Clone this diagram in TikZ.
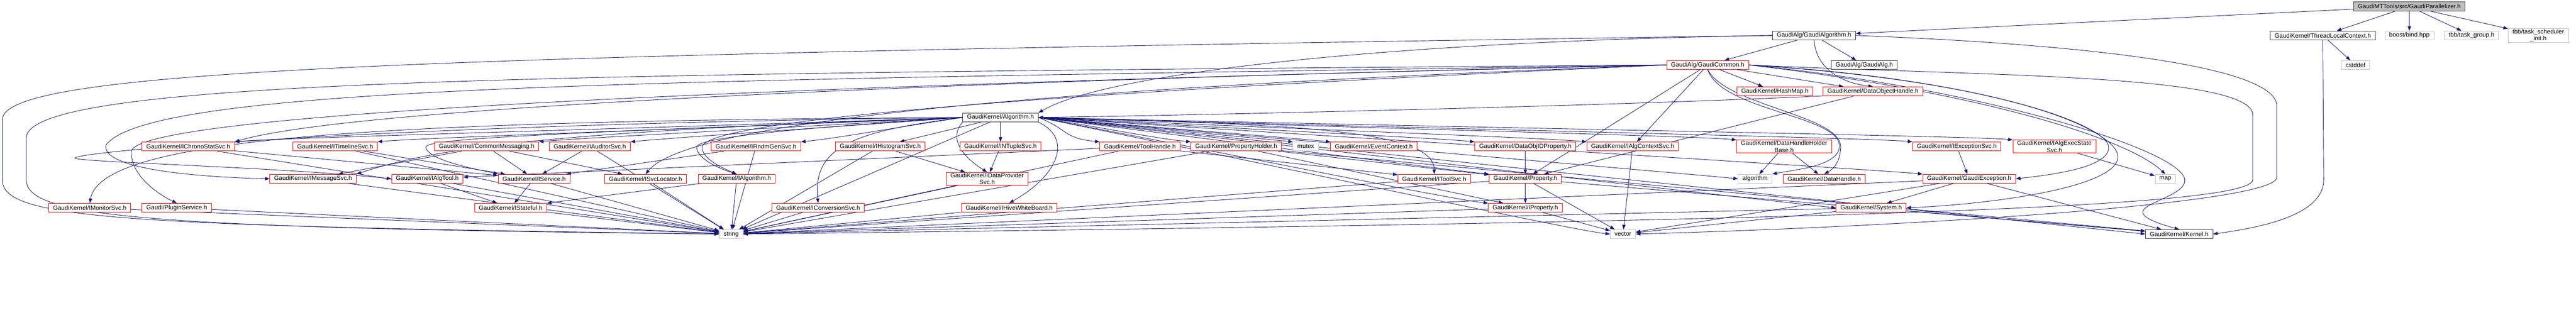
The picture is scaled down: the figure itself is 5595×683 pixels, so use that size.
\documentclass[tikz,border=0pt]{standalone}
\usepackage{fontspec}
\setmainfont{Liberation Sans}
\usepackage{tikz}
\usetikzlibrary{calc,positioning}
\usetikzlibrary{arrows.meta}
\tikzset{>={Triangle[width=5.5pt,length=7.5pt]}}
\definecolor{edgeblue}{HTML}{191970}
\definecolor{extgray}{HTML}{BFBFBF}
\pgfdeclarelayer{background}
\pgfsetlayers{background,main}

\begin{document}
\begin{tikzpicture}[x=0.75pt,y=-0.75pt]
        \tikzstyle{hnode} = [line width=0.75pt, rectangle, fill=white, inner xsep=7pt, inner ysep=1pt, minimum height=14.5pt, align=center, font=\fontsize{10}{11.5}\selectfont]
        \tikzstyle{rnode} = [hnode, draw=red]
        \tikzstyle{bnode} = [hnode, draw=black!80]
        \tikzstyle{gnode} = [hnode, draw=extgray]
        \tikzstyle{edge} = [->, edgeblue, line width=0.75pt]

        \useasboundingbox (0,0) rectangle (5595,683);

        % top rows
        \node[bnode, fill=extgray] (par) at (5233,14) {GaudiMTTools/src/GaudiParallelizer.h};
        \node[bnode] (galgo) at (3940,77) {GaudiAlg/GaudiAlgorithm.h};
        \node[bnode] (tlc) at (5045,77) {GaudiKernel/ThreadLocalContext.h};
        \node[gnode] (bind) at (5233,77) {boost/bind.hpp};
        \node[gnode] (tgrp) at (5368,77) {tbb/task\_group.h};
        \node[gnode] (tsi) at (5513,77) {tbb/task\_scheduler\\\_init.h};
        \node[rnode] (gcom) at (3709,141) {GaudiAlg/GaudiCommon.h};
        \node[bnode] (galg) at (4049,141) {GaudiAlg/GaudiAlg.h};
        \node[gnode] (cstd) at (5116,141) {cstddef};
        \node[rnode] (hmap) at (3855,198) {GaudiKernel/HashMap.h};
        \node[rnode] (doh) at (4068,198) {GaudiKernel/DataObjectHandle.h};
        \node[bnode] (alg) at (2173,255) {GaudiKernel/Algorithm.h};

        % row of direct includes
        \node[rnode] (chrono) at (409,318) {GaudiKernel/IChronoStatSvc.h};
        \node[rnode] (tline) at (728,318) {GaudiKernel/ITimelineSvc.h};
        \node[rnode] (cmsg) at (1057,318) {GaudiKernel/CommonMessaging.h};
        \node[rnode] (aud) at (1281,318) {GaudiKernel/IAuditorSvc.h};
        \node[rnode] (rndm) at (1642,318) {GaudiKernel/IRndmGenSvc.h};
        \node[rnode] (hist) at (1912,318) {GaudiKernel/IHistogramSvc.h};
        \node[rnode] (ntup) at (2173,318) {GaudiKernel/INTupleSvc.h};
        \node[rnode] (thdl) at (2476,318) {GaudiKernel/ToolHandle.h};
        \node[rnode] (phld) at (2685,318) {GaudiKernel/PropertyHolder.h};
        \node[gnode] (mutex) at (2836,318) {mutex};
        \node[rnode] (evctx) at (2984,318) {GaudiKernel/EventContext.h};
        \node[rnode] (doidp) at (3313,318) {GaudiKernel/DataObjIDProperty.h};
        \node[rnode] (actx) at (3546,318) {GaudiKernel/IAlgContextSvc.h};
        \node[rnode] (dhhb) at (3875,318) {GaudiKernel/DataHandleHolder\\Base.h};
        \node[rnode] (exsvc) at (4250,318) {GaudiKernel/IExceptionSvc.h};
        \node[rnode] (aexs) at (4462,318) {GaudiKernel/IAlgExecState\\Svc.h};

        \node[rnode] (imsg) at (680,388) {GaudiKernel/IMessageSvc.h};
        \node[rnode] (atool) at (928,388) {GaudiKernel/IAlgTool.h};
        \node[rnode] (isvc) at (1160,388) {GaudiKernel/IService.h};
        \node[rnode] (sloc) at (1402,388) {GaudiKernel/ISvcLocator.h};
        \node[rnode] (ialg) at (1600,388) {GaudiKernel/IAlgorithm.h};
        \node[rnode] (dpsvc) at (2144,388) {GaudiKernel/IDataProvider\\Svc.h};
        \node[rnode] (tsvc) at (3115,388) {GaudiKernel/IToolSvc.h};
        \node[rnode] (prop) at (3313,388) {GaudiKernel/Property.h};
        \node[gnode] (algm) at (3812,388) {algorithm};
        \node[rnode] (dhdl) at (3962,388) {GaudiKernel/DataHandle.h};
        \node[rnode] (gexc) at (4277,388) {GaudiKernel/GaudiException.h};
        \node[gnode] (map) at (4703,388) {map};

        \node[rnode] (mon) at (195,451) {GaudiKernel/IMonitorSvc.h};
        \node[rnode] (plug) at (384,451) {Gaudi/PluginService.h};
        \node[rnode] (stful) at (1109,451) {GaudiKernel/IStateful.h};
        \node[rnode] (conv) at (1777,451) {GaudiKernel/IConversionSvc.h};
        \node[rnode] (hive) at (2192,451) {GaudiKernel/IHiveWhiteBoard.h};
        \node[rnode] (iprop) at (3313,451) {GaudiKernel/IProperty.h};
        \node[rnode] (sys) at (4064,451) {GaudiKernel/System.h};

        \node[gnode] (str) at (1588,508) {string};
        \node[gnode] (vec) at (3525,508) {vector};
        \node[bnode] (kern) at (4733,508) {GaudiKernel/Kernel.h};

        \begin{pgfonlayer}{background}
          % short includes
          \foreach \a/\b in {par/galgo, par/tlc, par/bind, par/tgrp, par/tsi, tlc/cstd,
              galgo/gcom, galgo/galg, gcom/hmap, gcom/doh, gcom/actx, gcom/prop, alg/ntup, alg/hist,
              cmsg/imsg, cmsg/isvc, cmsg/sloc, chrono/isvc, tline/isvc, aud/isvc, rndm/isvc,
              atool/stful, isvc/stful, ialg/stful, hist/dpsvc, ntup/dpsvc, thdl/tsvc, thdl/atool,
              phld/prop, doidp/prop, prop/iprop, phld/iprop, doh/prop, dhhb/algm, dhhb/dhdl,
              exsvc/gexc, aexs/map, gexc/sys, alg/str}
            \draw[edge] (\a) -- (\b);

          % into string, vector and Kernel.h
          \foreach \a in {chrono, tline, imsg, atool, isvc, sloc, ialg, stful, conv, rndm, hist, dpsvc,
              hive, thdl, phld, tsvc, prop, iprop, gexc, sys, mon, plug, aud}
            \draw[edge] (\a) -- (str);
          \foreach \a in {actx, iprop, prop, sys, gexc}
            \draw[edge] (\a) -- (vec);
          \foreach \a in {gexc, sys, prop, phld}
            \draw[edge] (\a) -- (kern);

          % Algorithm.h fan out
          \foreach \b in {chrono, tline, cmsg, aud, rndm}
            \draw[edge] (alg.west) .. controls ($(alg.west)!0.5!(\b.north east)$) and ($(\b.north east)+(80,-8)$) .. (\b.north east);
          \foreach \b/\p in {thdl/north west, phld/north west, mutex/north west, evctx/north west,
              doidp/north west, actx/north west, dhhb/north west, exsvc/north west, aexs/north west,
              prop/north west, iprop/north west, algm/west, sys/west, gexc/north west, vec/west, kern/west}
            \draw[edge] (alg.east) .. controls ($(alg.east)!0.5!(\b.\p)$) and ($(\b.\p)+(-80,-8)$) .. (\b.\p);

          \draw[edge] (alg.west) .. controls (800,262) and (220,300) .. (mon.north);
          \draw[edge] (alg.west) .. controls (800,270) and (163,330) .. (163,343) .. controls (163,352) and (600,362) .. (atool.west);
          \draw[edge] (alg.west) .. controls (1200,285) and (950,320) .. (imsg.north east);
          \draw[edge] (alg.west) .. controls (1200,290) and (920,300) .. (925,320) .. controls (930,350) and (1050,370) .. (isvc.north west);
          \draw[edge] (alg.west) .. controls (1700,280) and (1510,300) .. (1513,320) .. controls (1515,345) and (1560,365) .. (ialg.north);
          \draw[edge] (alg.west) .. controls (1850,285) and (1765,320) .. (conv.north);
          \draw[edge] (alg.south west) .. controls (2060,300) and (2090,340) .. (dpsvc.north);
          \draw[edge] (alg.south east) .. controls (2330,300) and (2300,380) .. (hive.north);
          \draw[edge] (alg.east) .. controls (2800,270) and (3115,280) .. (tsvc.north);

          % GaudiAlgorithm.h and GaudiCommon.h long routes
          \draw[edge] (galgo.south) .. controls (3945,150) and (4000,180) .. (doh.north);
          \draw[edge] (galgo.west) .. controls (3000,90) and (2400,160) .. (alg.north east);
          \draw[edge] (doh.south west) .. controls (3500,230) and (2600,250) .. (alg.east);
          \draw[edge] (galgo.west) .. controls (900,120) and (5,150) .. (5,260) -- (5,390) .. controls (5,475) and (250,490) .. (str.west);
          \draw[edge] (gcom.west) .. controls (1200,160) and (57,170) .. (57,300) -- (57,390) .. controls (57,470) and (300,495) .. (str.west);
          \draw[edge] (galgo.east) .. controls (4500,95) and (4945,140) .. (4945,230) -- (4945,385) .. controls (4945,440) and (4200,490) .. (vec.east);
          \draw[edge] (gcom.east) .. controls (4300,165) and (4893,160) .. (4893,250) -- (4893,390) .. controls (4893,450) and (4000,480) .. (str.east);
          \draw[edge] (gcom.east) .. controls (4300,170) and (4580,270) .. (4580,320) .. controls (4580,365) and (4450,380) .. (gexc.east);
          \draw[edge] (gcom.east) .. controls (4400,180) and (4600,290) .. (4600,340) .. controls (4600,410) and (4300,445) .. (sys.east);
          \draw[edge] (gcom.east) .. controls (4300,200) and (4620,300) .. (map.north);
          \draw[edge] (gcom.east) .. controls (4300,190) and (4760,330) .. (4745,395) .. controls (4735,440) and (4560,450) .. (kern.north);
          \draw[edge] (gcom.south) .. controls (3740,240) and (3990,250) .. (3995,315) .. controls (3998,360) and (3900,368) .. (algm.north east);
          \draw[edge] (gcom.south) .. controls (3750,230) and (4000,250) .. (3998,320) .. controls (3996,350) and (3985,365) .. (dhdl.north);
          \draw[edge] (gcom.west) .. controls (2500,165) and (800,220) .. (chrono.north east);
          \draw[edge] (gcom.west) .. controls (1500,175) and (330,180) .. (230,315) .. controls (220,370) and (450,385) .. (imsg.west);
          \draw[edge] (gcom.west) .. controls (1500,190) and (285,250) .. (285,330) .. controls (285,380) and (340,420) .. (plug.north);
          \draw[edge] (gcom.west) .. controls (2300,190) and (1500,260) .. (sloc.north);
          \draw[edge] (gcom.west) .. controls (2300,200) and (1525,260) .. (1525,320) .. controls (1525,345) and (1570,365) .. (ialg.north);
          \draw[edge] (tlc.south) -- (5047,390) .. controls (5047,470) and (4900,495) .. (kern.east);
        \end{pgfonlayer}
\end{tikzpicture}
\end{document}
